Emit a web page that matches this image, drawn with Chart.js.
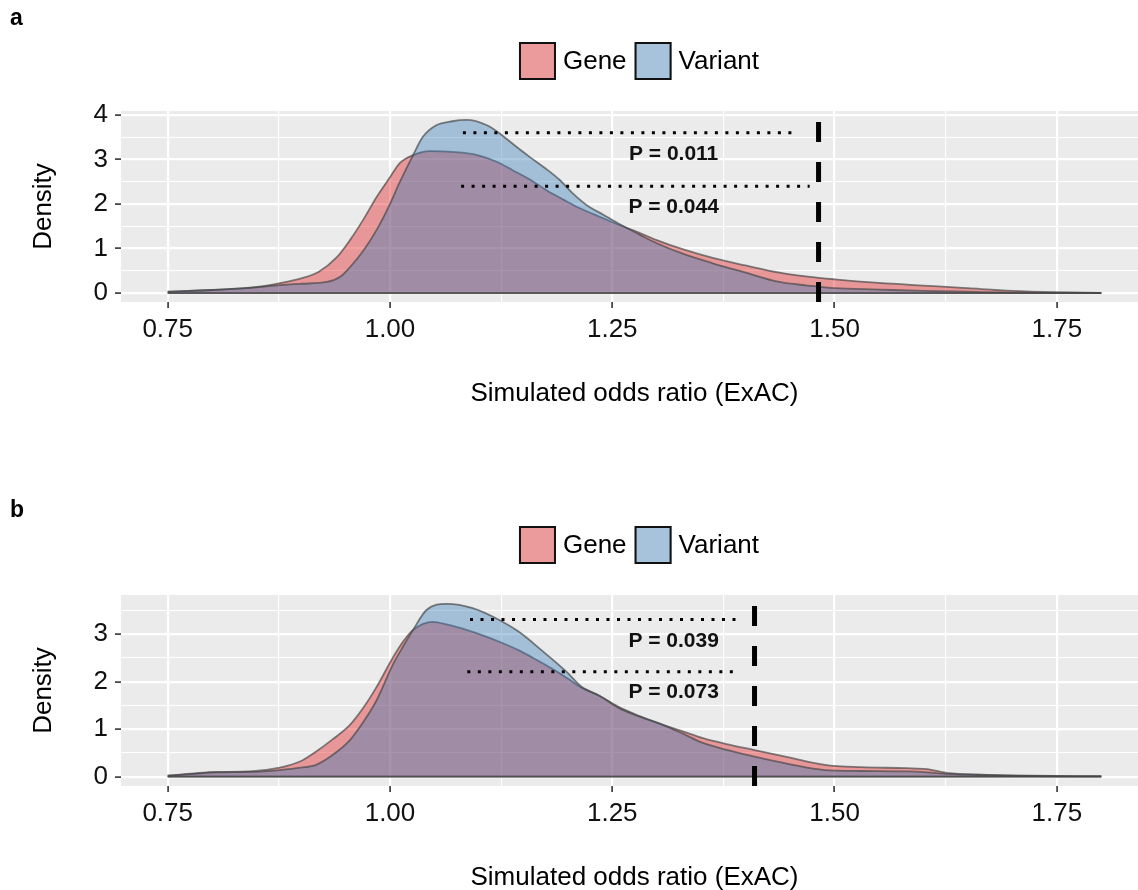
<!DOCTYPE html>
<html>
<head>
<meta charset="utf-8">
<script src="https://cdn.jsdelivr.net/npm/chart.js@4.4.0/dist/chart.umd.min.js"></script>
<style>
  html, body { margin: 0; padding: 0; background: #fff; }
  #page { position: relative; width: 1138px; height: 890px; overflow: hidden; }
  .panel { position: absolute; left: 0; width: 1148px; height: 484px; }
  #panelA { top: 0; }
  #panelB { top: 484px; }
</style>
</head>
<body>
<div id="page">
  <div class="panel" id="panelA"><canvas id="chartA" width="1148" height="484"></canvas></div>
  <div class="panel" id="panelB"><canvas id="chartB" width="1148" height="484"></canvas></div>
</div>
<script>
// shared axis setup
const xTickValues = [0.75, 1.00, 1.25, 1.50, 1.75];
const xTickLabels = ['0.75', '1.00', '1.25', '1.50', '1.75'];
const xMinorValues = [0.875, 1.125, 1.375, 1.625];
const seriesNames = ['Gene', 'Variant'];

// panel a: densities
const aGeneX = [0.75, 0.80, 0.85, 0.875, 0.90, 0.92, 0.94, 0.955, 0.97, 0.985, 1.00, 1.011, 1.026, 1.045, 1.07, 1.098, 1.12, 1.138, 1.16, 1.176, 1.195, 1.213, 1.235, 1.258, 1.28, 1.30, 1.33, 1.363, 1.40, 1.438, 1.47, 1.50, 1.55, 1.60, 1.626, 1.65, 1.70, 1.75, 1.80];
const aGeneY = [0.03, 0.07, 0.14, 0.22, 0.33, 0.48, 0.80, 1.19, 1.65, 2.16, 2.60, 2.92, 3.10, 3.19, 3.17, 3.10, 2.95, 2.76, 2.52, 2.31, 2.10, 1.91, 1.72, 1.53, 1.36, 1.19, 0.98, 0.79, 0.62, 0.46, 0.37, 0.31, 0.23, 0.17, 0.14, 0.11, 0.05, 0.02, 0.005];
const aVariantX = [0.75, 0.80, 0.85, 0.876, 0.90, 0.929, 0.945, 0.955, 0.97, 0.985, 1.00, 1.011, 1.026, 1.037, 1.052, 1.07, 1.086, 1.109, 1.123, 1.14, 1.157, 1.175, 1.191, 1.205, 1.221, 1.24, 1.258, 1.28, 1.30, 1.33, 1.363, 1.40, 1.438, 1.47, 1.50, 1.55, 1.60, 1.65, 1.70, 1.75, 1.80];
const aVariantY = [0.03, 0.07, 0.13, 0.18, 0.21, 0.25, 0.38, 0.58, 0.95, 1.42, 2.00, 2.49, 3.10, 3.51, 3.77, 3.86, 3.89, 3.77, 3.59, 3.32, 3.06, 2.80, 2.54, 2.25, 1.98, 1.76, 1.55, 1.32, 1.12, 0.88, 0.67, 0.46, 0.25, 0.17, 0.11, 0.08, 0.05, 0.03, 0.01, 0.005, 0.002];
const aYTicks = [0, 1, 2, 3, 4];
const aYMinor = [0.5, 1.5, 2.5, 3.5];
const aYRange = [-0.2, 4.09];
const aCutoff = 1.482;
const aRefY = [3.60, 2.40];
const aRefStart = [1.082, 1.080];
const aRefEnd = [1.459, 1.472];
const aPText = ['P = 0.011', 'P = 0.044'];
const aPX = [1.319, 1.319];
const aPY = [3.12, 1.93];

// panel b: densities
const bGeneX = [0.75, 0.78, 0.805, 0.842, 0.876, 0.90, 0.917, 0.935, 0.955, 0.97, 0.985, 1.003, 1.015, 1.026, 1.048, 1.065, 1.086, 1.105, 1.123, 1.145, 1.161, 1.18, 1.199, 1.215, 1.236, 1.256, 1.28, 1.307, 1.33, 1.352, 1.38, 1.41, 1.45, 1.489, 1.53, 1.581, 1.604, 1.626, 1.672, 1.72, 1.80];
const bGeneY = [0.02, 0.07, 0.10, 0.11, 0.19, 0.33, 0.53, 0.78, 1.09, 1.45, 1.89, 2.50, 2.85, 3.09, 3.26, 3.20, 3.09, 2.97, 2.84, 2.66, 2.50, 2.30, 2.08, 1.88, 1.70, 1.48, 1.28, 1.09, 0.95, 0.81, 0.68, 0.56, 0.40, 0.25, 0.20, 0.18, 0.16, 0.08, 0.04, 0.02, 0.01];
const bVariantX = [0.75, 0.78, 0.805, 0.842, 0.876, 0.90, 0.917, 0.935, 0.955, 0.97, 0.985, 1.003, 1.015, 1.026, 1.041, 1.064, 1.093, 1.123, 1.145, 1.17, 1.199, 1.215, 1.236, 1.256, 1.28, 1.307, 1.33, 1.352, 1.38, 1.41, 1.45, 1.489, 1.53, 1.581, 1.604, 1.626, 1.672, 1.72, 1.80];
const bVariantY = [0.02, 0.06, 0.09, 0.10, 0.14, 0.19, 0.25, 0.45, 0.77, 1.15, 1.61, 2.35, 2.75, 3.09, 3.51, 3.64, 3.55, 3.30, 3.05, 2.67, 2.20, 1.90, 1.70, 1.46, 1.27, 1.09, 0.90, 0.71, 0.56, 0.42, 0.26, 0.14, 0.12, 0.11, 0.09, 0.06, 0.03, 0.015, 0.005];
const bYTicks = [0, 1, 2, 3];
const bYMinor = [0.5, 1.5, 2.5, 3.5];
const bYRange = [-0.196, 3.825];
const bCutoff = 1.410;
const bRefY = [3.31, 2.21];
const bRefStart = [1.090, 1.087];
const bRefEnd = [1.396, 1.393];
const bPText = ['P = 0.039', 'P = 0.073'];
const bPX = [1.319, 1.319];
const bPY = [2.86, 1.77];

const FONT = 'Liberation Sans, Arial, sans-serif';
const geneFill = 'rgba(228, 26, 28, 0.4)';
const variantFill = 'rgba(55, 126, 184, 0.4)';
const outline = 'rgba(70, 70, 70, 0.68)';

Chart.defaults.font.family = FONT;

function pts(xs, ys) {
  return xs.map((x, i) => ({ x: x, y: ys[i] }));
}

// grey panel, letter, legend and P labels
const panelDecor = {
  id: 'panelDecor',
  beforeDraw(chart) {
    const { ctx, chartArea: a } = chart;
    ctx.save();
    ctx.fillStyle = '#EBEBEB';
    ctx.fillRect(a.left, a.top, a.right - a.left, a.bottom - a.top);
    ctx.restore();
  },
  afterDatasetsDraw(chart, args, opts) {
    const { ctx, scales: { x, y } } = chart;
    ctx.save();
    ctx.font = 'bold 21px ' + FONT;
    ctx.fillStyle = '#111';
    ctx.textAlign = 'center';
    ctx.textBaseline = 'middle';
    opts.pText.forEach((t, i) => {
      ctx.fillText(t, x.getPixelForValue(opts.pX[i]), y.getPixelForValue(opts.pY[i]));
    });
    ctx.restore();
  },
  afterDraw(chart, args, opts) {
    const ctx = chart.ctx;
    ctx.save();
    // panel letter
    ctx.font = 'bold 23px ' + FONT;
    ctx.fillStyle = '#000';
    ctx.textAlign = 'left';
    ctx.textBaseline = 'alphabetic';
    ctx.fillText(opts.letter, 10, opts.letterY);

    // legend
    const fills = { Gene: geneFill, Variant: variantFill };
    const keyW = 37, keyH = 38, gapText = 7, gapItem = 8;
    ctx.font = '26px ' + FONT;
    const widths = seriesNames.map(n => ctx.measureText(n).width);
    let total = seriesNames.length * (keyW + gapText) + widths.reduce((s, w) => s + w, 0) + gapItem * (seriesNames.length - 1);
    let cx = 639 - total / 2;
    const top = 42;
    seriesNames.forEach((n, i) => {
      ctx.fillStyle = '#F2F2F2';
      ctx.fillRect(cx, top, keyW, keyH);
      ctx.fillStyle = fills[n];
      ctx.fillRect(cx, top, keyW, keyH);
      ctx.strokeStyle = '#111';
      ctx.lineWidth = 2;
      ctx.strokeRect(cx + 1, top + 1, keyW - 2, keyH - 2);
      ctx.fillStyle = '#000';
      ctx.textBaseline = 'middle';
      ctx.fillText(n, cx + keyW + gapText, top + keyH / 2 + 1);
      cx += keyW + gapText + widths[i] + gapItem;
    });
    ctx.restore();
  }
};

function makePanel(id, p) {
  const xAll = xTickValues.concat(xMinorValues).sort((a, b) => a - b);
  const yAll = p.yTicks.concat(p.yMinor).sort((a, b) => a - b);
  const isMajorX = v => xTickValues.indexOf(v) >= 0;
  const isMajorY = v => p.yTicks.indexOf(v) >= 0;

  const datasets = [
    // cutoff and reference lines on top
    {
      label: 'cutoff', order: 0,
      data: [{ x: p.cutoff, y: p.yRange[0] }, { x: p.cutoff, y: p.yRange[1] }],
      borderColor: '#000', borderWidth: 5, borderDash: [20, 20], borderCapStyle: 'butt',
      pointRadius: 0, fill: false
    }
  ];
  p.refY.forEach((ry, i) => {
    datasets.push({
      label: 'ref' + i, order: 0,
      data: [{ x: p.refStart[i], y: ry }, { x: p.refEnd[i], y: ry }],
      borderColor: '#000', borderWidth: 3, borderDash: [3, 7.5], borderCapStyle: 'butt',
      pointRadius: 0, fill: false
    });
  });
  // bottom edges of both density polygons
  [[p.geneX], [p.variantX]].forEach(([xs], i) => {
    datasets.push({
      label: 'base' + i, order: 1,
      data: [{ x: xs[0], y: 0 }, { x: xs[xs.length - 1], y: 0 }],
      borderColor: outline, borderWidth: 1.8, pointRadius: 0, fill: false
    });
  });
  datasets.push({
    label: 'Variant', order: 2,
    data: pts(p.variantX, p.variantY),
    borderColor: outline, borderWidth: 1.8, backgroundColor: variantFill,
    fill: 'origin', pointRadius: 0, cubicInterpolationMode: 'monotone'
  });
  datasets.push({
    label: 'Gene', order: 3,
    data: pts(p.geneX, p.geneY),
    borderColor: outline, borderWidth: 1.8, backgroundColor: geneFill,
    fill: 'origin', pointRadius: 0, cubicInterpolationMode: 'monotone'
  });

  return new Chart(document.getElementById(id), {
    type: 'line',
    data: { datasets: datasets },
    plugins: [panelDecor],
    options: {
      responsive: false,
      animation: false,
      layout: { padding: { top: 111, left: 0, right: 0, bottom: 0 } },
      plugins: {
        legend: { display: false },
        tooltip: { enabled: false },
        panelDecor: { letter: p.letter, letterY: p.letterY, pText: p.pText, pX: p.pX, pY: p.pY }
      },
      scales: {
        x: {
          type: 'linear', min: 0.6975, max: 1.8525,
          afterBuildTicks: s => { s.ticks = xAll.map(v => ({ value: v })); },
          afterFit: s => { s.height = 182; },
          border: { display: false },
          grid: {
            color: '#FFFFFF',
            lineWidth: c => (c.tick && isMajorX(c.tick.value)) ? 2.2 : 1.1,
            tickColor: c => (c.tick && isMajorX(c.tick.value)) ? '#333' : 'rgba(0,0,0,0)',
            tickLength: 6, tickWidth: 1.6
          },
          ticks: {
            autoSkip: false, maxRotation: 0, padding: 6, color: '#111',
            font: { size: 26 },
            callback: v => { const k = xTickValues.indexOf(v); return k >= 0 ? xTickLabels[k] : ''; }
          },
          title: {
            display: true, text: 'Simulated odds ratio (ExAC)', color: '#000',
            font: { size: 26 }, padding: { top: 0, bottom: 75 }
          }
        },
        y: {
          type: 'linear', min: p.yRange[0], max: p.yRange[1],
          afterBuildTicks: s => { s.ticks = yAll.map(v => ({ value: v })); },
          afterFit: s => { s.width = 121; },
          border: { display: false },
          grid: {
            color: '#FFFFFF',
            lineWidth: c => (c.tick && isMajorY(c.tick.value)) ? 2.2 : 1.1,
            tickColor: c => (c.tick && isMajorY(c.tick.value)) ? '#333' : 'rgba(0,0,0,0)',
            tickLength: 6, tickWidth: 1.6
          },
          ticks: {
            autoSkip: false, padding: 7, color: '#111',
            font: { size: 26 },
            callback: v => isMajorY(v) ? String(v) : ''
          },
          title: {
            display: true, text: 'Density', color: '#000',
            font: { size: 26 }, padding: { top: 28, bottom: 0 }
          }
        }
      }
    }
  });
}

makePanel('chartA', {
  letter: 'a', letterY: 25,
  geneX: aGeneX, geneY: aGeneY, variantX: aVariantX, variantY: aVariantY,
  yTicks: aYTicks, yMinor: aYMinor, yRange: aYRange,
  cutoff: aCutoff, refY: aRefY, refStart: aRefStart, refEnd: aRefEnd,
  pText: aPText, pX: aPX, pY: aPY
});

makePanel('chartB', {
  letter: 'b', letterY: 33,
  geneX: bGeneX, geneY: bGeneY, variantX: bVariantX, variantY: bVariantY,
  yTicks: bYTicks, yMinor: bYMinor, yRange: bYRange,
  cutoff: bCutoff, refY: bRefY, refStart: bRefStart, refEnd: bRefEnd,
  pText: bPText, pX: bPX, pY: bPY
});
</script>
</body>
</html>
